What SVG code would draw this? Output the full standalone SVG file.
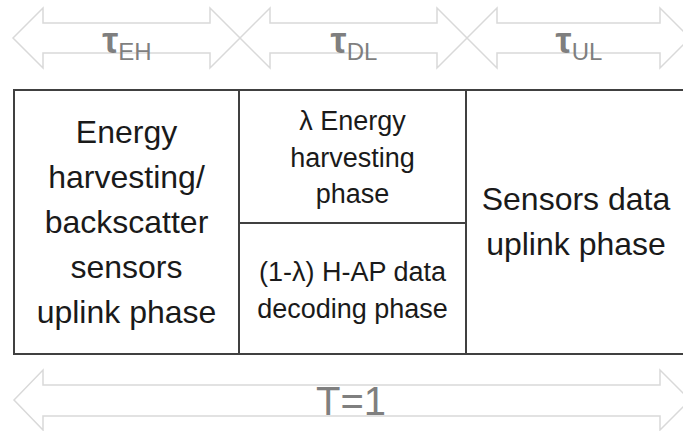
<svg xmlns="http://www.w3.org/2000/svg" width="683" height="431" viewBox="0 0 683 431">
<style>
.arr{fill:#ffffff;stroke:#d9d9d9;stroke-width:1.5;stroke-linejoin:miter}
.lbl{font-family:"Liberation Sans",Arial,sans-serif;fill:#7f7f7f;text-anchor:middle}
.cell{fill:#ffffff;stroke:#404040;stroke-width:2}
.t{font-family:"Liberation Sans",Arial,sans-serif;fill:#1a1a1a;text-anchor:middle}
.big{font-size:32px}
.mid{font-size:27px}
</style>
<rect width="683" height="431" fill="#ffffff"/>
<g id="connectors">
<path id="arrow-eh" class="arr" d="M13,38 L43,8 L43,23 L210,23 L210,8 L240,38 L210,68 L210,53 L43,53 L43,68 Z"/>
<path id="arrow-dl" class="arr" d="M240,38 L270,8 L270,23 L437,23 L437,8 L467,38 L437,68 L437,53 L270,53 L270,68 Z"/>
<path id="arrow-ul" class="arr" d="M467,38 L497,8 L497,23 L660,23 L660,8 L690,38 L660,68 L660,53 L497,53 L497,68 Z"/>
<path id="arrow-T" class="arr" d="M14,400 L43,370 L43,385 L660,385 L660,370 L690,400 L660,430 L660,416 L43,416 L43,430 Z"/>
</g>
<g id="label-eh"><text class="lbl" x="127" y="53"><tspan font-size="36" font-weight="bold">τ</tspan><tspan font-size="24" dy="7">EH</tspan></text></g>
<g id="label-dl"><text class="lbl" x="354" y="53"><tspan font-size="36" font-weight="bold">τ</tspan><tspan font-size="24" dy="7">DL</tspan></text></g>
<g id="label-ul"><text class="lbl" x="579" y="53"><tspan font-size="36" font-weight="bold">τ</tspan><tspan font-size="24" dy="7">UL</tspan></text></g>
<g id="label-T"><text class="lbl" x="351" y="415" font-size="40">T=1</text></g>
<g id="frame">
<rect class="cell" x="14" y="90" width="700" height="264"/>
</g>
<g id="node-eh">
<rect class="cell" x="14" y="90" width="225" height="264"/>
<text class="t big" x="126.5" y="143">Energy</text>
<text class="t big" x="126.5" y="188">harvesting/</text>
<text class="t big" x="126.5" y="233">backscatter</text>
<text class="t big" x="126.5" y="278">sensors</text>
<text class="t big" x="126.5" y="323">uplink phase</text>
</g>
<g id="node-dl-eh">
<rect class="cell" x="239" y="90" width="227" height="133"/>
<text class="t mid" x="352.5" y="130">λ Energy</text>
<text class="t mid" x="352.5" y="167">harvesting</text>
<text class="t mid" x="352.5" y="203">phase</text>
</g>
<g id="node-dl-dec">
<rect class="cell" x="239" y="223" width="227" height="131"/>
<text class="t mid" x="352.5" y="281">(1-λ) H-AP data</text>
<text class="t mid" x="352.5" y="318">decoding phase</text>
</g>
<g id="node-ul">
<rect class="cell" x="466" y="90" width="240" height="264"/>
<text class="t big" x="576" y="210">Sensors data</text>
<text class="t big" x="576" y="255">uplink phase</text>
</g>
</svg>
